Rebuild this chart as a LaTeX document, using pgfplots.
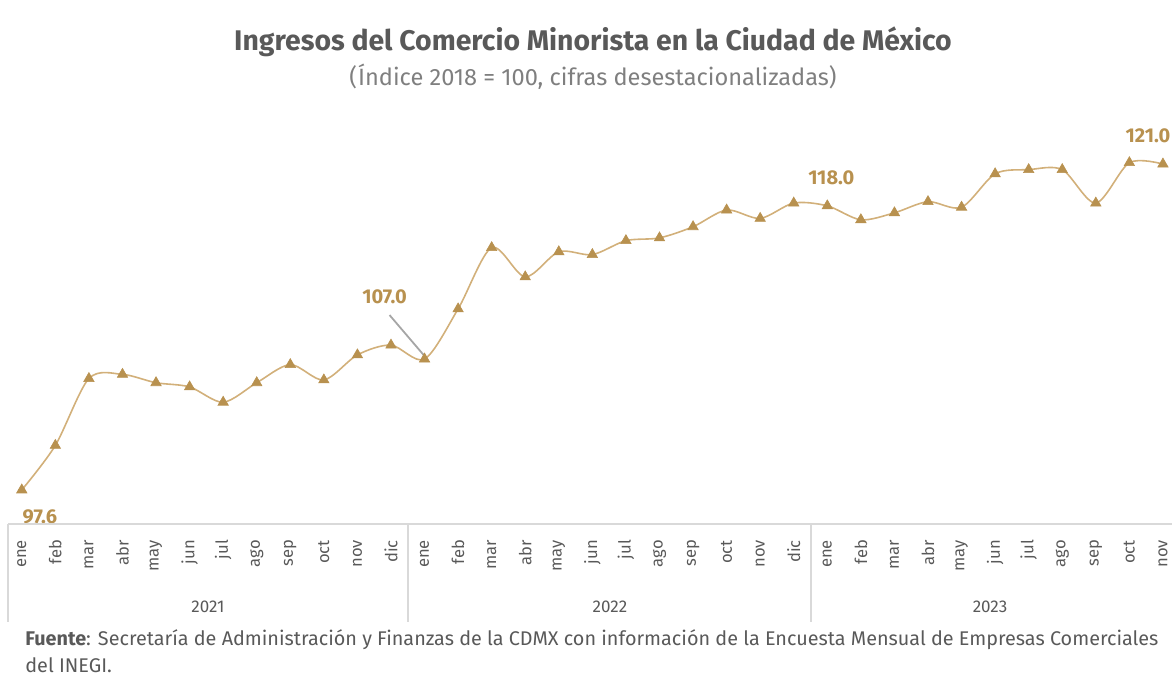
\documentclass[border=0pt]{standalone}
\usepackage{fontspec}
\setmainfont{Fira Sans}
\usepackage{pgfplots}
\pgfplotsset{compat=1.18}
\definecolor{gold}{HTML}{B8914F}
\definecolor{goldline}{HTML}{D2B07A}
\definecolor{txt}{HTML}{595959}
\definecolor{subc}{HTML}{7F7F7F}
\definecolor{sepc}{HTML}{D9D9D9}
\definecolor{leader}{HTML}{A6A6A6}
\begin{document}
\begin{tikzpicture}
\path[use as bounding box] (0,0) rectangle (586pt,338.5pt);
\begin{axis}[
  at={(2.5pt,77.5pt)}, anchor=south west,
  scale only axis, width=583.5pt, height=211pt,
  xmin=-0.5, xmax=34.27, ymin=95.3, ymax=125.6,
  hide y axis,
  axis x line*=bottom,
  x axis line style={draw=none},
  major tick length=0pt,
  xtick={0,...,34},
  xticklabels={ene,feb,mar,abr,may,jun,jul,ago,sep,oct,nov,dic,ene,feb,mar,abr,may,jun,jul,ago,sep,oct,nov,dic,ene,feb,mar,abr,may,jun,jul,ago,sep,oct,nov},
  xticklabel style={rotate=90, anchor=east, font=\fontsize{8.3}{9}\selectfont, text=txt, xshift=-5.5pt},
  clip=false,
]
\addplot[goldline, line width=0.8pt, smooth, tension=0.5,
  mark=triangle*, mark size=3pt, mark options={draw=gold, fill=gold, line width=0.3pt}]
coordinates {
(0,97.6) (1,100.8) (2,105.6) (3,105.9) (4,105.3) (5,105.0) (6,103.9) (7,105.3) (8,106.6) (9,105.5) (10,107.3) (11,108.0)
(12,107.0) (13,110.6) (14,115.0) (15,112.9) (16,114.7) (17,114.5) (18,115.5) (19,115.7) (20,116.5) (21,117.7) (22,117.1) (23,118.2)
(24,118.0) (25,117.0) (26,117.5) (27,118.3) (28,117.9) (29,120.3) (30,120.6) (31,120.6) (32,118.2) (33,121.1) (34,121.0)
};
\draw[leader, line width=0.9pt] ([yshift=1.5pt]axis cs:12,107.0) -- ([xshift=-17.5pt,yshift=22pt]axis cs:12,107.0);
\node[text=gold, font=\fontsize{10}{12}\selectfont\bfseries] at ([xshift=9pt,yshift=-13.5pt]axis cs:0,97.6) {97.6};
\node[text=gold, font=\fontsize{10}{12}\selectfont\bfseries] at ([xshift=-20pt,yshift=31pt]axis cs:12,107.0) {107.0};
\node[text=gold, font=\fontsize{10}{12}\selectfont\bfseries] at ([xshift=2pt,yshift=14pt]axis cs:24,118.0) {118.0};
\node[text=gold, font=\fontsize{10}{12}\selectfont\bfseries] at ([xshift=-7.5pt,yshift=14pt]axis cs:34,121.0) {121.0};
\end{axis}
\draw[sepc, line width=1pt] (4pt,76.5pt) -- (586pt,76.5pt);
\foreach \xx in {4,204,405.5} \draw[sepc, line width=0.8pt] (\xx pt,76.5pt) -- (\xx pt,27.5pt);
\node[text=txt, font=\fontsize{8.5}{10}\selectfont] at (104pt,35pt) {2021};
\node[text=txt, font=\fontsize{8.5}{10}\selectfont] at (305pt,35pt) {2022};
\node[text=txt, font=\fontsize{8.5}{10}\selectfont] at (495pt,35pt) {2023};
\node[text=txt, font=\fontsize{14.2}{16}\selectfont\bfseries] at (296.5pt,317.5pt) {Ingresos del Comercio Minorista en la Ciudad de México};
\node[text=subc, font=\fontsize{11.8}{13}\selectfont] at (296.5pt,300pt) {(Índice 2018 = 100, cifras desestacionalizadas)};
\node[text=txt, anchor=west, inner sep=0pt, font=\fontsize{9.9}{11}\selectfont] at (12.5pt,18.5pt) {\textbf{Fuente}: Secretaría de Administración y Finanzas de la CDMX con información de la Encuesta Mensual de Empresas Comerciales};
\node[text=txt, anchor=west, inner sep=0pt, font=\fontsize{9.9}{11}\selectfont] at (12.5pt,6pt) {del INEGI.};
\end{tikzpicture}
\end{document}
